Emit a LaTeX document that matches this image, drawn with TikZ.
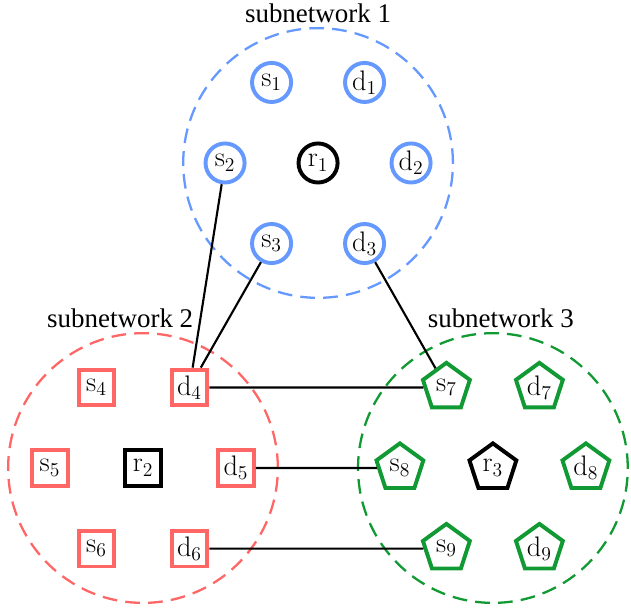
\documentclass[tikz,border=0pt]{standalone}
\usepackage[no-math]{fontspec}
\setmainfont{Liberation Serif}
\usetikzlibrary{shapes.geometric,positioning}
\definecolor{netblue}{HTML}{6699FF}
\definecolor{netred}{HTML}{FF6666}
\definecolor{netgreen}{HTML}{119933}
\tikzset{
  every node/.style={font=\fontsize{16.5}{20}\selectfont},
  net/.style={draw,circle,line width=1.4pt,dash pattern=on 9pt off 5pt,minimum size=5.8cm},
  rnd/.style={draw,circle,line width=2.4pt,minimum size=0.84cm,inner sep=0pt},
  box/.style={draw,rectangle,line width=2.4pt,minimum size=0.77cm,inner sep=0pt},
  pent/.style={draw,regular polygon,regular polygon sides=5,line width=2.4pt,minimum size=1.06cm,inner sep=0pt},
  link/.style={line width=1.3pt}
}
\begin{document}
\begin{tikzpicture}
\useasboundingbox (0,0) rectangle (13.57,-13.16);

\coordinate (c1) at (6.84,-3.505);
\coordinate (c2) at (3.075,-10.065);
\coordinate (c3) at (10.6,-10.065);

% subnetworks
\node[net,draw=netblue] (net1) at (c1) {};
\node[net,draw=netred] (net2) at (c2) {};
\node[net,draw=netgreen] (net3) at (c3) {};
\node[above=-1pt of net1] (lab1) {subnetwork 1};
\node[above=-1pt of net2,xshift=-0.49cm] (lab2) {subnetwork 2};
\node[above=-1pt of net3,xshift=0.17cm] (lab3) {subnetwork 3};

% relays
\node[rnd] (r1) at (c1) {$\mathrm{r}_1$};
\node[box] (r2) at (c2) {$\mathrm{r}_2$};
\node[pent] (r3) at (c3) {$\mathrm{r}_3$};

% sources and destinations
\foreach \l/\i/\ang in {s/1/120,d/1/60,s/2/180,d/2/0,s/3/240,d/3/300}
  \node[rnd,draw=netblue] (\l\i) at ([shift={(\ang:2)}]c1) {$\mathrm{\l}_{\i}$};
\foreach \l/\i/\ang in {s/4/120,d/4/60,s/5/180,d/5/0,s/6/240,d/6/300}
  \node[box,draw=netred] (\l\i) at ([shift={(\ang:2)}]c2) {$\mathrm{\l}_{\i}$};
\foreach \l/\i/\ang in {s/7/120,d/7/60,s/8/180,d/8/0,s/9/240,d/9/300}
  \node[pent,draw=netgreen] (\l\i) at ([shift={(\ang:2)}]c3) {$\mathrm{\l}_{\i}$};

% links between subnetworks
\draw[link] (s2) -- (d4);
\draw[link] (s3) -- (d4);
\draw[link] (d3) -- (s7);
\draw[link] (d4) -- (s7);
\draw[link] (d5) -- (s8);
\draw[link] (d6) -- (s9);

\end{tikzpicture}
\end{document}
